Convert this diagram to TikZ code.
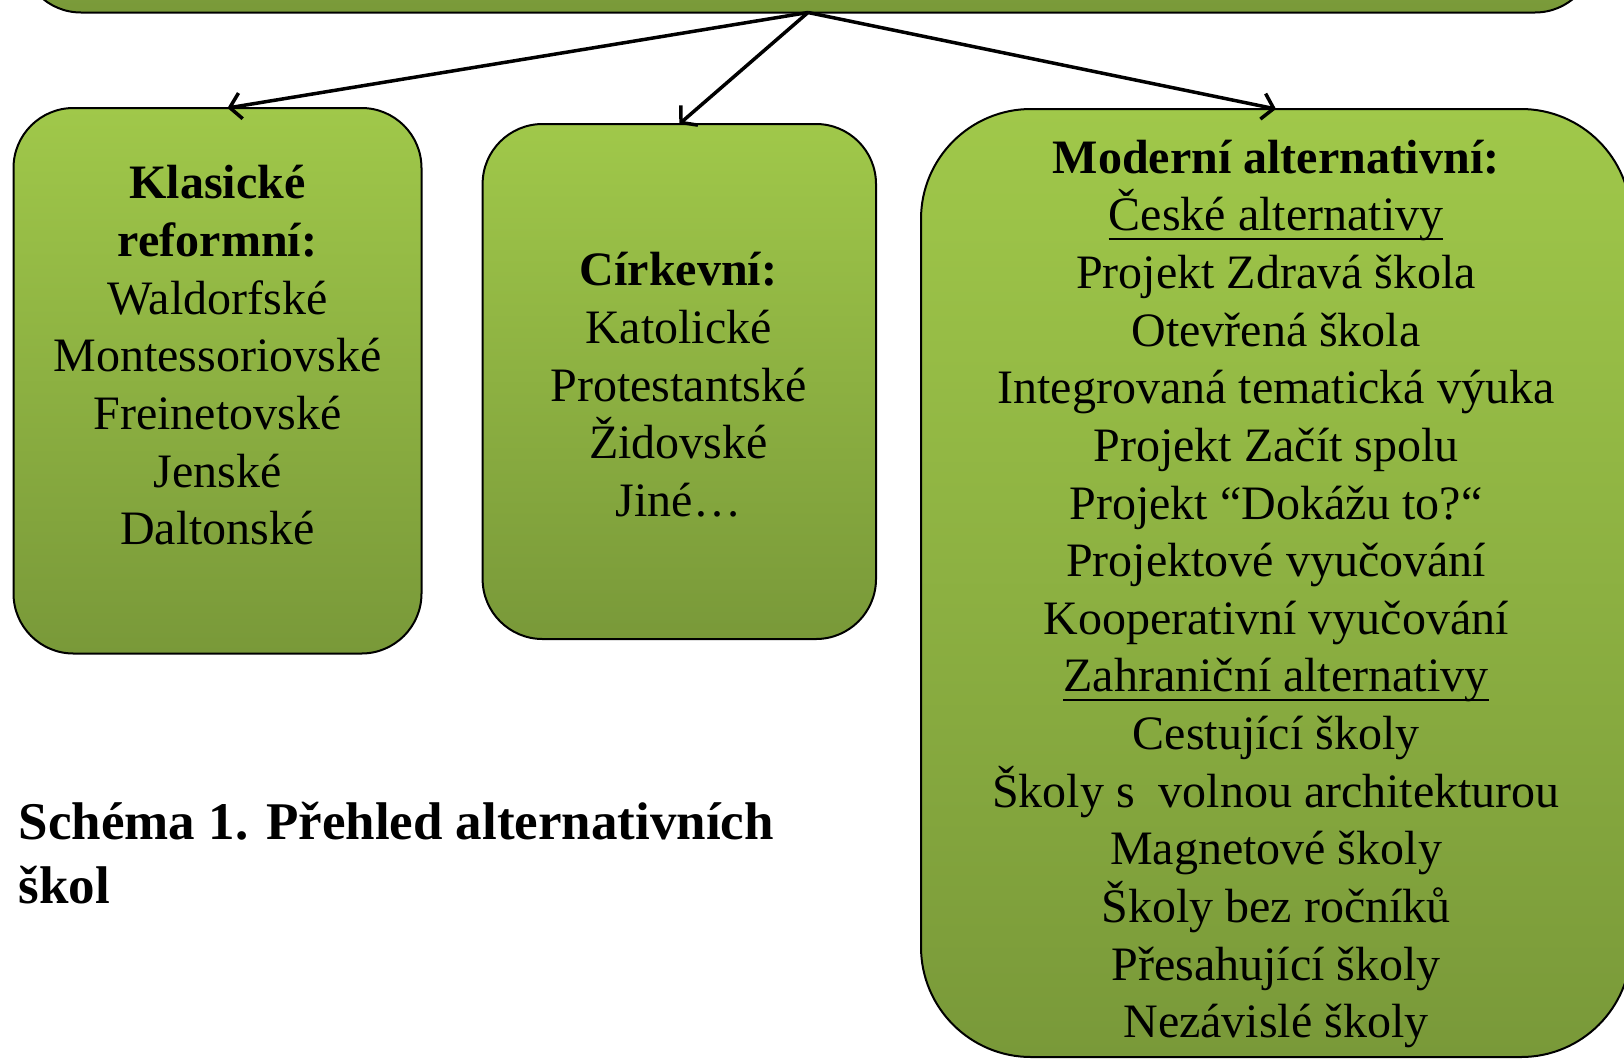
\documentclass[tikz,border=0pt]{standalone}
\usepackage{fontspec}
\setmainfont{Liberation Serif}
\usetikzlibrary{arrows.meta}
\definecolor{gtop}{RGB}{160,200,74}
\definecolor{gbot}{RGB}{121,153,57}
\newcommand\myul[1]{\setbox0=\hbox{#1}\mbox{\rlap{\rule[-9pt]{\wd0}{2pt}}\box0}}
\begin{document}
\begin{tikzpicture}[x=1pt,y=-1pt,
  gbox/.style={draw=black, line width=2pt, rounded corners=60pt, top color=gtop, bottom color=gbot, inner sep=0pt, outer sep=0pt},
  btext/.style={align=center, inner sep=0pt, font=\fontsize{48}{57.65}\selectfont},
  conn/.style={line width=3.5pt, -{Straight Barb[length=11pt,width=26pt]}}]
\useasboundingbox (0,0) rectangle (1624,1058);
\begin{scope}
\clip (0,0) rectangle (1624,1058);
\node[gbox, minimum width=1574pt, minimum height=312.5pt] (topbox) at (808,-143.75) {};
\node[gbox, minimum width=408pt, minimum height=545.5pt] (lbox) at (217.5,380.75) {};
\node[gbox, minimum width=393.4pt, minimum height=515pt] (cbox) at (679.3,381.5) {};
\node[gbox, rounded corners=110pt, minimum width=710pt, minimum height=948pt] (rbox) at (1276,583) {};
\draw[conn] (topbox.south) -- ([xshift=10pt]lbox.north);
\draw[conn] (topbox.south) -- (cbox.north);
\draw[conn] (topbox.south) -- (rbox.north);
\node[btext] (ltext) at (217.5,355.3) {\textbf{Klasické}\\\textbf{reformní:}\\Waldorfské\\Montessoriovské\\Freinetovské\\Jenské\\Daltonské};
\node[btext] (ctext) at (678.6,384.8) {\textbf{Církevní:}\\Katolické\\Protestantské\\Židovské\\Jiné…};
\node[btext] (rtext) at (1276,594) {\textbf{Moderní alternativní:}\\\myul{České alternativy}\\Projekt Zdravá škola\\Otevřená škola\\Integrovaná tematická výuka\\Projekt Začít spolu\\Projekt “Dokážu to?“\\Projektové vyučování\\Kooperativní vyučování\\\myul{Zahraniční alternativy}\\Cestující školy\\Školy s\ \ volnou architekturou\\Magnetové školy\\Školy bez ročníků\\Přesahující školy\\Nezávislé školy};
\node[anchor=west, align=left, inner sep=0pt, font=\bfseries\fontsize{53}{64}\selectfont] (title) at (18.6,853) {Schéma 1. Přehled alternativních\\škol};
\end{scope}
\end{tikzpicture}
\end{document}
